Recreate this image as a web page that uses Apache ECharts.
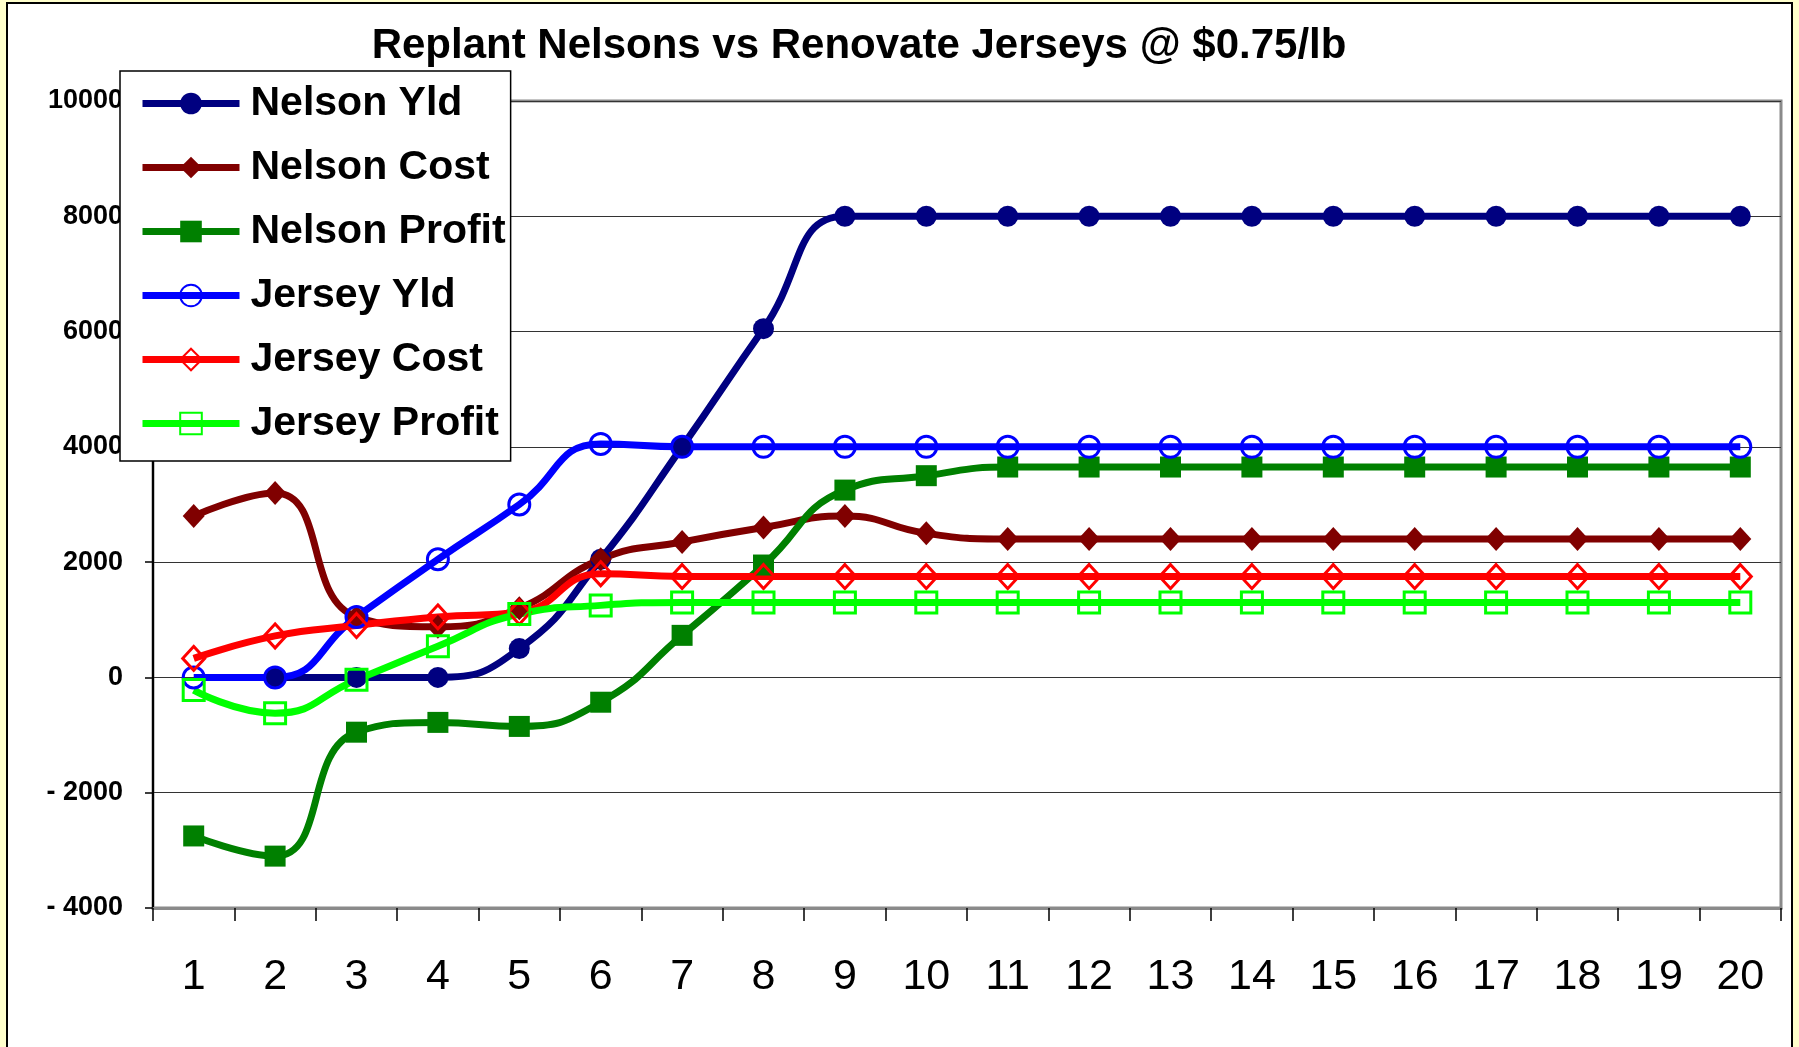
<!DOCTYPE html>
<html>
<head>
<meta charset="utf-8">
<script src="https://cdn.jsdelivr.net/npm/echarts@6/dist/echarts.min.js"></script>
<style>
html, body { margin: 0; padding: 0; background: #FFFFCC; }
#chart { width: 1799px; height: 1047px; }
</style>
</head>
<body>
<div id="chart"></div>
<script>
// years 1..20
var years = ['1','2','3','4','5','6','7','8','9','10','11','12','13','14','15','16','17','18','19','20'];

var nelsonYld    = [null, 0, 0, 0, 500, 2050, 4000, 6050, 8000, 8000, 8000, 8000, 8000, 8000, 8000, 8000, 8000, 8000, 8000, 8000];
var nelsonCost   = [2800, 3200, 1050, 880, 1200, 2050, 2350, 2600, 2800, 2500, 2400, 2400, 2400, 2400, 2400, 2400, 2400, 2400, 2400, 2400];
var nelsonProfit = [-2750, -3100, -950, -780, -850, -430, 730, 1950, 3250, 3500, 3650, 3650, 3650, 3650, 3650, 3650, 3650, 3650, 3650, 3650];
var jerseyYld    = [0, 0, 1050, 2050, 3000, 4050, 4000, 4000, 4000, 4000, 4000, 4000, 4000, 4000, 4000, 4000, 4000, 4000, 4000, 4000];
var jerseyCost   = [330, 720, 900, 1050, 1130, 1800, 1750, 1750, 1750, 1750, 1750, 1750, 1750, 1750, 1750, 1750, 1750, 1750, 1750, 1750];
var jerseyProfit = [-220, -620, -40, 540, 1100, 1250, 1300, 1300, 1300, 1300, 1300, 1300, 1300, 1300, 1300, 1300, 1300, 1300, 1300, 1300];

var font = 'Arial, "Liberation Sans", sans-serif';

function makeSeries(name, data, color, symbol, filled) {
    return {
        name: name,
        type: 'line',
        smooth: true,
        data: data,
        symbol: symbol,
        symbolSize: symbol == 'diamond' ? [22, 24] : 21,
        showAllSymbol: true,
        lineStyle: { color: color, width: 7 },
        itemStyle: filled
            ? { color: color }
            : { color: 'rgba(0,0,0,0)', borderColor: color, borderWidth: 3 },
        emphasis: { disabled: true }
    };
}

var myChart = echarts.init(document.getElementById('chart'));
myChart.setOption({
    backgroundColor: '#FFFFCC',
    animation: false,
    graphic: [
        {
            type: 'rect',
            z: -10,
            shape: { x: 7, y: 3, width: 1785, height: 1060 },
            style: { fill: '#fff', stroke: '#000', lineWidth: 2 }
        }
    ],
    title: {
        text: 'Replant Nelsons vs Renovate Jerseys @ $0.75/lb',
        left: 854,
        textAlign: 'center',
        top: 20,
        textStyle: { fontFamily: font, fontSize: 42, fontWeight: 'bold', color: '#000' }
    },
    legend: {
        orient: 'vertical',
        left: 120,
        top: 71,
        z: 10,
        padding: [12, 5, 17, 19],
        backgroundColor: '#fff',
        borderColor: '#000',
        borderWidth: 1.5,
        itemWidth: 97,
        itemHeight: 27,
        itemGap: 23,
        selectedMode: false,
        lineStyle: { width: 7 },
        textStyle: {
            fontFamily: font, fontSize: 41, fontWeight: 'bold', color: '#000',
            lineHeight: 40, padding: [0, 0, 0, 6]
        },
        data: ['Nelson Yld', 'Nelson Cost', 'Nelson Profit', 'Jersey Yld', 'Jersey Cost', 'Jersey Profit']
    },
    grid: {
        left: 153,
        right: 18,
        top: 101,
        bottom: 139,
        show: true,
        backgroundColor: '#fff',
        borderColor: '#8a8a8a',
        borderWidth: 3
    },
    xAxis: {
        type: 'category',
        data: years,
        boundaryGap: true,
        axisLine: { onZero: false, lineStyle: { color: '#8a8a8a', width: 3 } },
        axisTick: { show: true, length: 13, interval: 0, lineStyle: { color: '#000', width: 1.5 } },
        axisLabel: { interval: 0, margin: 48, fontFamily: font, fontSize: 43, color: '#000' }
    },
    yAxis: {
        type: 'value',
        min: -4000,
        max: 10000,
        interval: 2000,
        axisLine: { show: true, lineStyle: { color: '#000', width: 2 } },
        axisTick: { show: true, length: 8, lineStyle: { color: '#000', width: 1.5 } },
        axisLabel: {
            margin: 30,
            fontFamily: font,
            fontSize: 27,
            fontWeight: 'bold',
            color: '#000',
            formatter: function (v) { return v < 0 ? '- ' + (-v) : '' + v; }
        },
        splitLine: { lineStyle: { color: '#333', width: 1.2 } }
    },
    series: [
        makeSeries('Nelson Yld', nelsonYld, '#000080', 'circle', true),
        makeSeries('Nelson Cost', nelsonCost, '#800000', 'diamond', true),
        makeSeries('Nelson Profit', nelsonProfit, '#008000', 'rect', true),
        makeSeries('Jersey Yld', jerseyYld, '#0000FF', 'circle', false),
        makeSeries('Jersey Cost', jerseyCost, '#FF0000', 'diamond', false),
        makeSeries('Jersey Profit', jerseyProfit, '#00FF00', 'rect', false)
    ]
});
</script>
</body>
</html>
